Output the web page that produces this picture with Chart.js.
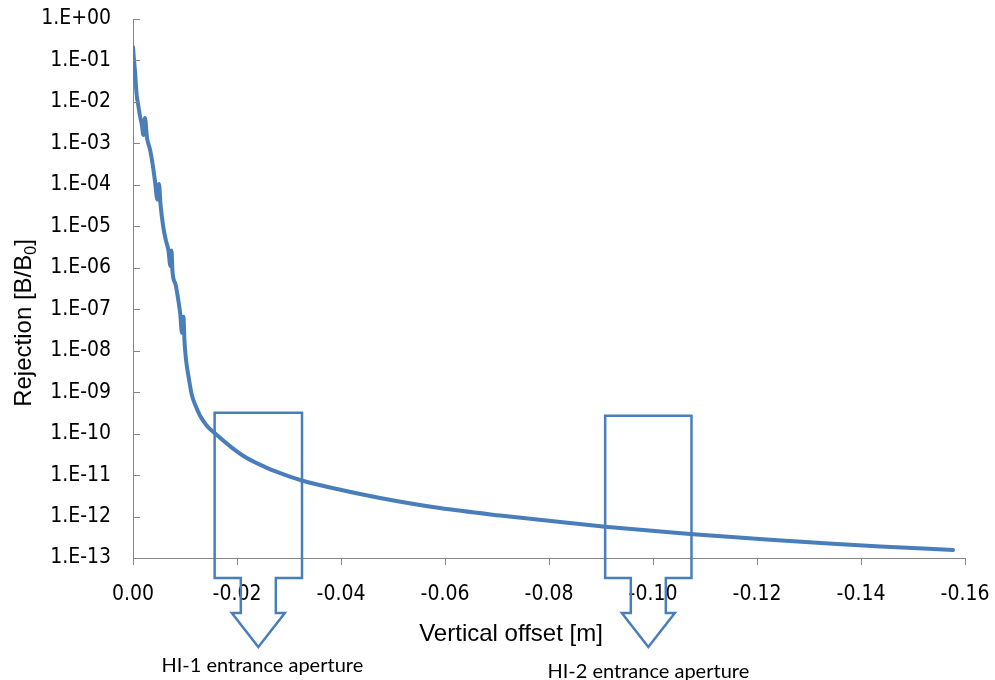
<!DOCTYPE html>
<html>
<head>
<meta charset="utf-8">
<script src="https://cdn.jsdelivr.net/npm/chart.js@4/dist/chart.umd.min.js"></script>
<style>
  html, body { margin: 0; padding: 0; background: #ffffff; }
  #wrap { width: 995px; height: 680px; position: relative; }
</style>
</head>
<body>
<div id="wrap"><canvas id="c" width="995" height="680"></canvas></div>
<script>
// Vertical offset of the probe [m] and the field rejection B/B0 measured there
const offsets = [
  0, -0.0002, -0.0004, -0.0007, -0.0010, -0.0013, -0.0017, -0.0020, -0.0023, -0.0027,
  -0.0033, -0.0038, -0.0042, -0.0047, -0.0050, -0.0053, -0.0058, -0.0063, -0.0068, -0.0072,
  -0.0074, -0.0076, -0.0082, -0.0087, -0.0091, -0.0094, -0.0097, -0.0099, -0.0102, -0.0107,
  -0.0113, -0.0121, -0.0129, -0.0142, -0.0158, -0.0190, -0.0219, -0.0254, -0.0283, -0.0325,
  -0.0379, -0.0475, -0.0590, -0.0706, -0.0840, -0.0908, -0.1071, -0.1225, -0.1346, -0.1437,
  -0.1577
];
const rejection = [
  2.1e-1, 1.0e-1, 5.2e-2, 1.5e-2, 8.5e-3, 4.9e-3, 2.8e-3, 1.6e-3, 4.1e-3, 1.35e-3,
  6.9e-4, 3.0e-4, 1.3e-4, 4.4e-5, 1.05e-4, 3.3e-5, 1.0e-5, 4.7e-6, 2.7e-6, 1.1e-6,
  2.6e-6, 7.9e-7, 3.9e-7, 1.7e-7, 7.4e-8, 2.7e-8, 6.6e-8, 1.7e-8, 6.0e-9, 2.3e-9,
  8.7e-10, 4.5e-10, 2.7e-10, 1.55e-10, 1.0e-10, 4.6e-11, 2.57e-11, 1.56e-11, 1.12e-11, 7.4e-12,
  5.0e-12, 2.8e-12, 1.6e-12, 1.06e-12, 7.0e-13, 5.7e-13, 3.8e-13, 2.75e-13, 2.2e-13, 1.9e-13,
  1.56e-13
];

const xTickValues = [0, -0.02, -0.04, -0.06, -0.08, -0.10, -0.12, -0.14, -0.16];
const xTickLabels = ['0.00', '-0.02', '-0.04', '-0.06', '-0.08', '-0.10', '-0.12', '-0.14', '-0.16'];
const yTickValues = [1e0, 1e-1, 1e-2, 1e-3, 1e-4, 1e-5, 1e-6, 1e-7, 1e-8, 1e-9, 1e-10, 1e-11, 1e-12, 1e-13];
const yTickLabels = ['1.E+00', '1.E-01', '1.E-02', '1.E-03', '1.E-04', '1.E-05', '1.E-06',
                     '1.E-07', '1.E-08', '1.E-09', '1.E-10', '1.E-11', '1.E-12', '1.E-13'];

// Entrance apertures: offset range [m] and the rejection level of the box top
const apertureNames = ['HI-1 entrance aperture', 'HI-2 entrance aperture'];
const apertureFrom = [-0.0157, -0.0908];
const apertureTo = [-0.0325, -0.1074];
const apertureTop = [3.2e-10, 2.7e-10];

const xTitle = 'Vertical offset [m]';
const yTitleMain = 'Rejection [B/B';
const yTitleSub = '0';
const yTitleEnd = ']';

const BLUE = '#4A7EBB';
const AXIS = '#868686';
const TICK_FONT = "'DejaVu Sans Condensed', 'DejaVu Sans', sans-serif";
const TITLE_FONT = "'Liberation Sans', Arial, sans-serif";
const NOTE_FONT = "Lato, 'Open Sans', sans-serif";

function labelFor(values, labels, v, log) {
  const i = values.findIndex(t => log
    ? Math.abs(Math.log10(t) - Math.log10(v)) < 1e-6
    : Math.abs(t - v) < 1e-9);
  return i >= 0 ? labels[i] : '';
}

// Tick marks, aperture call-outs and axis titles
const decorations = {
  id: 'decorations',
  afterDatasetsDraw(chart, args, opts) {
    const ctx = chart.ctx;
    const xs = chart.scales.x, ys = chart.scales.y;
    const area = chart.chartArea;
    ctx.save();

    // short tick marks: inside on the value axis, outside on the offset axis
    ctx.strokeStyle = AXIS;
    ctx.lineWidth = 1;
    ctx.beginPath();
    yTickValues.forEach(v => {
      const py = Math.round(ys.getPixelForValue(v)) + 0.5;
      ctx.moveTo(area.left, py);
      ctx.lineTo(area.left + opts.tickLen, py);
    });
    xTickValues.forEach(v => {
      const px = Math.round(xs.getPixelForValue(v)) + 0.5;
      ctx.moveTo(px, area.bottom);
      ctx.lineTo(px, area.bottom + opts.tickLen);
    });
    ctx.stroke();

    // down-arrow call-outs marking each aperture
    ctx.strokeStyle = BLUE;
    ctx.lineWidth = 2.5;
    ctx.lineJoin = 'miter';
    apertureNames.forEach((name, i) => {
      const L = xs.getPixelForValue(apertureFrom[i]);
      const R = xs.getPixelForValue(apertureTo[i]);
      const T = ys.getPixelForValue(apertureTop[i]);
      const B = area.bottom + opts.boxDrop;
      const C = (L + R) / 2;
      const headY = area.bottom + opts.headDrop;
      const tipY = area.bottom + opts.tipDrop;
      ctx.beginPath();
      ctx.moveTo(L, T);
      ctx.lineTo(R, T);
      ctx.lineTo(R, B);
      ctx.lineTo(C + opts.stemHalf, B);
      ctx.lineTo(C + opts.stemHalf, headY);
      ctx.lineTo(C + opts.headHalf, headY);
      ctx.lineTo(C, tipY);
      ctx.lineTo(C - opts.headHalf, headY);
      ctx.lineTo(C - opts.stemHalf, headY);
      ctx.lineTo(C - opts.stemHalf, B);
      ctx.lineTo(L, B);
      ctx.closePath();
      ctx.stroke();

      ctx.fillStyle = '#000000';
      ctx.font = opts.noteSize + 'px ' + NOTE_FONT;
      ctx.textAlign = 'center';
      ctx.textBaseline = 'alphabetic';
      ctx.fillText(name, C + opts.noteShift[i], tipY + opts.noteGap[i]);
    });

    // axis titles
    ctx.fillStyle = '#000000';
    ctx.font = opts.titleSize + 'px ' + TITLE_FONT;
    ctx.textAlign = 'center';
    ctx.textBaseline = 'alphabetic';
    ctx.fillText(xTitle, opts.xTitleX, opts.xTitleY);

    ctx.save();
    ctx.translate(opts.yTitleX, opts.yTitleY);
    ctx.rotate(-Math.PI / 2);
    ctx.textAlign = 'left';
    const big = opts.titleSize + 'px ' + TITLE_FONT;
    const small = Math.round(opts.titleSize * 0.65) + 'px ' + TITLE_FONT;
    ctx.font = big;
    const w1 = ctx.measureText(yTitleMain).width;
    const w3 = ctx.measureText(yTitleEnd).width;
    ctx.font = small;
    const w2 = ctx.measureText(yTitleSub).width;
    let x0 = -(w1 + w2 + w3) / 2;
    ctx.font = big;
    ctx.fillText(yTitleMain, x0, 0);
    ctx.font = small;
    ctx.fillText(yTitleSub, x0 + w1, opts.titleSize * 0.22);
    ctx.font = big;
    ctx.fillText(yTitleEnd, x0 + w1 + w2, 0);
    ctx.restore();

    ctx.restore();
  }
};

new Chart(document.getElementById('c'), {
  type: 'line',
  data: {
    datasets: [{
      data: offsets.map((x, i) => ({ x: x, y: rejection[i] })),
      borderColor: BLUE,
      borderWidth: 4,
      pointRadius: 0,
      cubicInterpolationMode: 'monotone',
      fill: false,
      borderJoinStyle: 'round',
      borderCapStyle: 'round'
    }]
  },
  options: {
    responsive: false,
    animation: false,
    devicePixelRatio: 1,
    layout: { padding: { top: 19, right: 30, bottom: 0, left: 0 } },
    plugins: {
      legend: { display: false },
      tooltip: { enabled: false },
      decorations: {
        tickLen: 7,
        boxDrop: 20,
        headDrop: 55,
        tipDrop: 89,
        stemHalf: 17.5,
        headHalf: 26.5,
        noteSize: 20,
        noteShift: [4, 0],
        noteGap: [25, 31],
        titleSize: 24,
        xTitleX: 511,
        xTitleY: 641,
        yTitleX: 31,
        yTitleY: 323
      }
    },
    scales: {
      x: {
        type: 'linear',
        min: -0.16,
        max: 0,
        reverse: true,
        afterFit: s => { s.height = 122; s.paddingLeft = 0; s.paddingRight = 0; },
        afterBuildTicks: s => { s.ticks = xTickValues.map(v => ({ value: v })); },
        grid: { display: true, drawOnChartArea: false, drawTicks: false },
        border: { display: true, color: AXIS, width: 1 },
        ticks: {
          autoSkip: false,
          maxRotation: 0,
          padding: 24,
          color: '#000000',
          font: { family: TICK_FONT, size: 21 },
          callback: v => labelFor(xTickValues, xTickLabels, v, false)
        }
      },
      y: {
        type: 'logarithmic',
        min: 1e-13,
        max: 1,
        afterFit: s => { s.width = 133; s.paddingTop = 0; s.paddingBottom = 0; },
        afterBuildTicks: s => { s.ticks = yTickValues.map(v => ({ value: v })); },
        grid: { display: true, drawOnChartArea: false, drawTicks: false },
        border: { display: true, color: AXIS, width: 1 },
        ticks: {
          autoSkip: false,
          padding: 22,
          color: '#000000',
          font: { family: TICK_FONT, size: 21 },
          callback: v => labelFor(yTickValues, yTickLabels, v, true)
        }
      }
    }
  },
  plugins: [decorations]
});
</script>
</body>
</html>
